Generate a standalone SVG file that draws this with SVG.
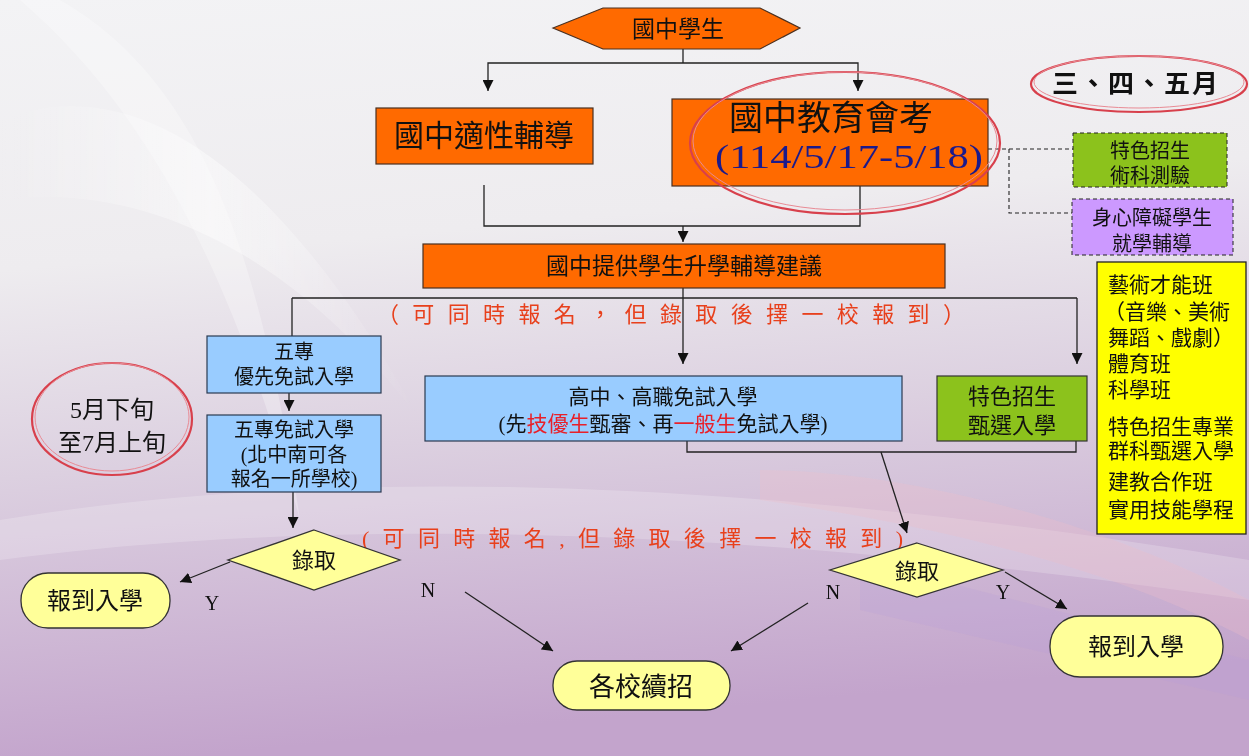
<svg xmlns="http://www.w3.org/2000/svg" width="1249" height="756" viewBox="0 0 1249 756">
<defs>
<linearGradient id="bg" x1="0" y1="0" x2="0.15" y2="1">
<stop offset="0" stop-color="#f3f3f5"/>
<stop offset="0.35" stop-color="#eeecef"/>
<stop offset="0.62" stop-color="#dcd0e0"/>
<stop offset="1" stop-color="#c3a4cc"/>
</linearGradient>
<linearGradient id="sw" x1="0" y1="0" x2="1" y2="0">
<stop offset="0" stop-color="#ffffff" stop-opacity="0"/>
<stop offset="0.5" stop-color="#ffffff" stop-opacity="0.55"/>
<stop offset="1" stop-color="#ffffff" stop-opacity="0"/>
</linearGradient>
<marker id="ah" viewBox="0 0 10 10" refX="10" refY="5" markerWidth="11" markerHeight="11" markerUnits="userSpaceOnUse" orient="auto">
<path d="M0,0 L10,5 L0,10 z" fill="#111"/>
</marker>
<style>
.cjk{font-family:"Liberation Serif","Noto Sans CJK TC","Noto Sans CJK SC",sans-serif;fill:#111}
.ser{font-family:"Liberation Serif",serif;fill:#111}
.org{fill:#ff6a00;stroke:#4a3020;stroke-width:1.2}
.blu{fill:#99ccff;stroke:#2a3a50;stroke-width:1.2}
.yel{fill:#ffff99;stroke:#333;stroke-width:1.3}
.ln{fill:none;stroke:#222;stroke-width:1.3}
.arr{fill:none;stroke:#222;stroke-width:1.3;marker-end:url(#ah)}
.dsh{fill:none;stroke:#222;stroke-width:1.1;stroke-dasharray:4 3}
.ring{fill:none;stroke:#d8404c;stroke-width:2.2}
.ring2{fill:none;stroke:#e88a94;stroke-width:1}
.red{font-family:"Liberation Serif","Noto Sans CJK TC",sans-serif;fill:#e8401c}
</style>
</defs>
<rect width="1249" height="756" fill="url(#bg)"/>
<g id="background" opacity="0.8">
<path d="M0,120 C150,60 300,200 420,420 C300,260 150,180 0,200 z" fill="url(#sw)"/>
<path d="M60,0 C200,80 260,250 300,520 C240,300 160,120 20,0 z" fill="#ffffff" opacity="0.35"/>
<path d="M0,520 C300,470 700,470 1249,560 L1249,600 C700,520 300,520 0,560 z" fill="#ffffff" opacity="0.25"/>
<path d="M760,470 C900,470 1100,520 1249,600 L1249,640 C1100,560 900,520 760,500 z" fill="#f0c0c8" opacity="0.35"/>
<path d="M860,560 L1249,660 L1249,700 L860,610 z" fill="#b8a0d8" opacity="0.3"/>
</g>
<g id="connectors">
<path class="ln" d="M683,49 V63"/>
<path class="arr" d="M683,63 H488 V91"/>
<path class="arr" d="M683,63 H858 V91"/>
<path class="ln" d="M484,185 V226 H860 V186"/>
<path class="arr" d="M683,226 V242"/>
<path class="ln" d="M683,288 V298"/>
<path class="ln" d="M292,298 H1077"/>
<path class="ln" d="M292,298 V336"/>
<path class="arr" d="M683,298 V364"/>
<path class="arr" d="M1077,298 V364"/>
<path class="dsh" d="M988,149 H1073"/>
<path class="dsh" d="M1009,149 V213 H1072"/>
<path class="arr" d="M289,393 V411"/>
<path class="arr" d="M293,492 V528"/>
<path class="arr" d="M230,562 L180,582"/>
<path class="ln" d="M687,441 V452 H1076 V441"/>
<path class="arr" d="M881,452 L907,533"/>
<path class="arr" d="M1005,572 L1067,609"/>
<path class="arr" d="M465,592 L553,651"/>
<path class="arr" d="M808,603 L731,651"/>
</g>
<g id="n-start">
<polygon class="org" points="553,28 603,8 760,8 800,28 760,49 603,49"/>
<text class="cjk" x="678" y="37" font-size="23" text-anchor="middle">國中學生</text>
</g>
<g id="n-guide">
<rect class="org" x="376" y="108" width="217" height="56"/>
<text class="cjk" x="484" y="146" font-size="30" text-anchor="middle">國中適性輔導</text>
</g>
<g id="n-exam">
<rect class="org" x="672" y="99" width="316" height="87"/>
<text x="831" y="130" text-anchor="middle"><tspan class="cjk" font-size="34">國中教育會考</tspan><tspan class="ser" x="849" y="168" font-size="33" style="fill:#1a1a8c" textLength="268" lengthAdjust="spacingAndGlyphs">(114/5/17-5/18)</tspan></text>
<ellipse class="ring" cx="845" cy="143" rx="155" ry="71"/>
<ellipse class="ring2" cx="845" cy="141" rx="152" ry="69"/>
</g>
<g id="n-months">
<ellipse class="ring" cx="1139" cy="84" rx="108" ry="28"/>
<ellipse class="ring2" cx="1139" cy="82" rx="105" ry="26"/>
<text class="cjk" x="1136" y="93" font-size="26" font-weight="bold" text-anchor="middle" letter-spacing="2">三、四、五月</text>
</g>
<g id="n-arts-test">
<rect x="1073" y="133" width="154" height="54" fill="#8cc21c" stroke="#222" stroke-width="1" stroke-dasharray="4 3"/>
<text class="cjk" font-size="20" text-anchor="middle"><tspan x="1150" y="158">特色招生</tspan><tspan x="1150" y="183">術科測驗</tspan></text>
</g>
<g id="n-disab">
<rect x="1072" y="199" width="161" height="56" fill="#cc99ff" stroke="#222" stroke-width="1" stroke-dasharray="4 3"/>
<text class="cjk" font-size="20" text-anchor="middle"><tspan x="1152" y="225">身心障礙學生</tspan><tspan x="1152" y="251">就學輔導</tspan></text>
</g>
<g id="n-advice">
<rect class="org" x="423" y="244" width="522" height="44"/>
<text class="cjk" x="684" y="274" font-size="23" text-anchor="middle">國中提供學生升學輔導建議</text>
</g>
<g id="note1">
<text class="red" x="377" y="322" font-size="22" textLength="588" lengthAdjust="spacing">（可同時報名，但錄取後擇一校報到）</text>
</g>
<g id="n-5y-priority">
<rect class="blu" x="207" y="336" width="174" height="57"/>
<text class="cjk" font-size="20" text-anchor="middle"><tspan x="294" y="359">五專</tspan><tspan x="294" y="384">優先免試入學</tspan></text>
</g>
<g id="n-5y-free">
<rect class="blu" x="207" y="415" width="174" height="77"/>
<text class="cjk" font-size="20" text-anchor="middle"><tspan x="294" y="437">五專免試入學</tspan><tspan x="294" y="462">(北中南可各</tspan><tspan x="294" y="486">報名一所學校)</tspan></text>
</g>
<g id="n-dates2">
<ellipse class="ring" cx="112" cy="419" rx="80" ry="56"/>
<ellipse class="ring2" cx="112" cy="417" rx="77" ry="54"/>
<text class="cjk" font-size="24" text-anchor="middle"><tspan x="112" y="418">5月下旬</tspan><tspan x="112" y="451">至7月上旬</tspan></text>
</g>
<g id="n-hs">
<rect class="blu" x="425" y="376" width="477" height="65"/>
<text class="cjk" font-size="21" text-anchor="middle"><tspan x="663" y="404">高中、高職免試入學</tspan><tspan x="663" y="431">(先<tspan fill="#e8202a">技優生</tspan>甄審、再<tspan fill="#e8202a">一般生</tspan>免試入學)</tspan></text>
</g>
<g id="n-special">
<rect x="937" y="376" width="150" height="65" fill="#8cc21c" stroke="#333" stroke-width="1.2"/>
<text class="cjk" font-size="22" text-anchor="middle"><tspan x="1012" y="404">特色招生</tspan><tspan x="1012" y="433">甄選入學</tspan></text>
</g>
<g id="n-classes">
<rect x="1097" y="262" width="149" height="272" fill="#ffff00" stroke="#222" stroke-width="1.3"/>
<text class="cjk" font-size="21"><tspan x="1108" y="292">藝術才能班</tspan><tspan x="1104" y="319">（音樂、美術</tspan><tspan x="1108" y="345">舞蹈、戲劇）</tspan><tspan x="1108" y="371">體育班</tspan><tspan x="1108" y="397">科學班</tspan><tspan x="1108" y="434">特色招生專業</tspan><tspan x="1108" y="458">群科甄選入學</tspan><tspan x="1108" y="489">建教合作班</tspan><tspan x="1108" y="517">實用技能學程</tspan></text>
</g>
<g id="note2">
<text class="red" x="362" y="546" font-size="22" textLength="541" lengthAdjust="spacing">(可同時報名,但錄取後擇一校報到)</text>
</g>
<g id="n-admit-left">
<polygon class="yel" points="314,530 400,560 314,590 228,560"/>
<text class="cjk" x="314" y="568" font-size="22" text-anchor="middle">錄取</text>
</g>
<g id="n-enroll-left">
<rect class="yel" x="21" y="573" width="149" height="55" rx="27" ry="27"/>
<text class="cjk" x="95" y="609" font-size="24" text-anchor="middle">報到入學</text>
</g>
<g id="n-admit-right">
<polygon class="yel" points="917,543 1003,570 917,597 830,570"/>
<text class="cjk" x="917" y="579" font-size="22" text-anchor="middle">錄取</text>
</g>
<g id="n-enroll-right">
<rect class="yel" x="1050" y="616" width="173" height="61" rx="30" ry="30"/>
<text class="cjk" x="1136" y="655" font-size="24" text-anchor="middle">報到入學</text>
</g>
<g id="n-continue">
<rect class="yel" x="553" y="661" width="177" height="49" rx="24" ry="24"/>
<text class="cjk" x="641" y="696" font-size="26" text-anchor="middle">各校續招</text>
</g>
<g id="labels" class="ser" font-size="20">
<text x="212" y="610" text-anchor="middle">Y</text>
<text x="428" y="597" text-anchor="middle">N</text>
<text x="833" y="599" text-anchor="middle">N</text>
<text x="1003" y="599" text-anchor="middle">Y</text>
</g>
</svg>
